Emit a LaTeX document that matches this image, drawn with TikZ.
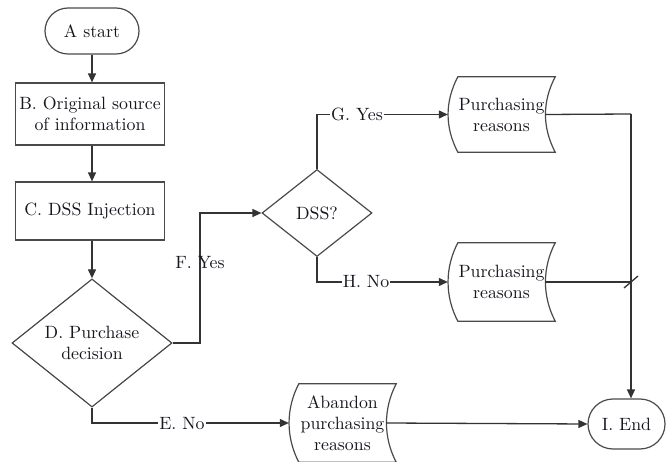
\documentclass[tikz,border=0pt]{standalone}
\usepackage{fontspec}
\newfontfamily\diagfont{lmroman10-regular}[Extension=.otf]
\usetikzlibrary{shapes.geometric,shapes.misc,arrows.meta}
\definecolor{inkline}{HTML}{333333}
\definecolor{shapeedge}{HTML}{4A4A4A}
\definecolor{inktext}{HTML}{16161F}
\tikzset{
  base/.style={font=\diagfont\fontsize{17.8}{21}\selectfont, text=inktext, align=center, inner sep=0pt},
  terminal/.style={base, rounded rectangle, draw=shapeedge, line width=1.2pt},
  procbox/.style={base, rectangle, draw=shapeedge, line width=1.2pt},
  decision/.style={base, diamond, draw=shapeedge, line width=1.2pt},
  storedtext/.style={base, rectangle},
  shapeline/.style={draw=shapeedge, line width=1.2pt},
  conn/.style={draw=inkline, line width=1.3pt},
  arr/.style={conn, -{Triangle[length=9pt,width=8pt]}},
  lbl/.style={base, fill=white, inner xsep=1pt, inner ysep=2pt},
  lblclear/.style={base},
}
% outline of a stored-data symbol around a plain node
\newcommand\sdoutline[1]{%
  \draw[shapeline] ([xshift=10pt]#1.north west) -- (#1.north east)
    .. controls +(-13pt,-25pt) and +(-13pt,25pt) .. (#1.south east)
    -- ([xshift=10pt]#1.south west)
    .. controls +(-13pt,25pt) and +(-13pt,-25pt) .. cycle;}
\begin{document}
\begin{tikzpicture}[x=1pt, y=-1pt]
\useasboundingbox (0,0) rectangle (667,462);

% left column
\node[terminal, minimum width=94pt, minimum height=46pt] (A) at (92,31) {A start};
\node[procbox, minimum width=149pt, minimum height=62pt] (B) at (90,114) {B. Original source\\of information};
\node[procbox, minimum width=149pt, minimum height=58pt] (C) at (90,211) {C. DSS Injection};
\node[decision, minimum width=160pt, minimum height=127pt] (D) at (92,343) {D. Purchase\\decision};

% DSS branch
\node[decision, minimum width=110pt, minimum height=87pt] (S) at (317,213) {DSS?};

% stored-data symbols
\node[storedtext, minimum width=107pt, minimum height=75pt] (P1) at (501.5,114.5) {Purchasing\\reasons};
\node[storedtext, minimum width=107pt, minimum height=78pt] (P2) at (501.5,282) {Purchasing\\reasons};
\node[storedtext, minimum width=107pt, minimum height=78pt] (Ab) at (342.5,423) {Abandon\\purchasing\\reasons};
\sdoutline{P1}
\sdoutline{P2}
\sdoutline{Ab}

% end terminal
\node[terminal, minimum width=77pt, minimum height=50pt] (I) at (626.5,424) {I. End};

% junction points
\coordinate (Fc) at (200,343);
\coordinate (Jt) at (631,114);
\coordinate (Jm) at (631,282);
\coordinate (P1r) at ([xshift=-10pt]P1.east);
\coordinate (P2r) at ([xshift=-10pt]P2.east);
\coordinate (Abr) at ([xshift=-10pt]Ab.east);

% main flow
\draw[arr] (A.south) -- (A.south |- B.north);
\draw[arr] (A.south |- B.south) -- (A.south |- C.north);
\draw[arr] (A.south |- C.south) -- (D.north);

% F. Yes
\draw[arr] (D.east) -- (Fc) |- (S.west);
\node[lblclear] (Fl) at (200,263) {F. Yes};

% G. Yes / H. No
\draw[arr] (S.north) |- (P1.west);
\node[lbl] (Gl) at (357,114) {G. Yes};
\draw[arr] (S.south) |- (P2.west);
\node[lbl] (Hl) at (366,282) {H. No};

% E. No
\draw[arr] (D.south) |- (Ab.west);
\node[lbl] (El) at (182,424) {E. No};

% to the end
\draw[conn] (P1r) -- (Jt);
\draw[arr] (Jt) -- (Jt |- I.north);
\draw[conn] (P2r) -- (Jm);
\draw[conn] ([shift={(-7pt,-6pt)}]Jm) -- ([shift={(7pt,6pt)}]Jm);
\draw[arr] (Abr) -- (I.west);
\end{tikzpicture}
\end{document}
